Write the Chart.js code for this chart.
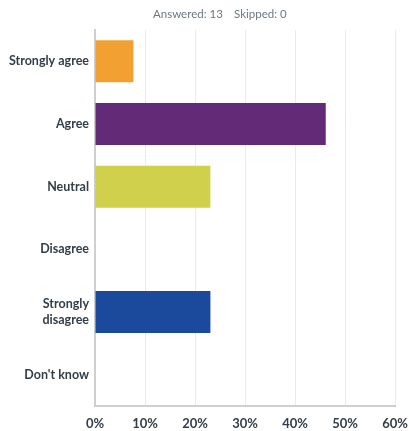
<!DOCTYPE html>
<html>
<head>
<meta charset="utf-8">
<script src="https://cdn.jsdelivr.net/npm/chart.js@4"></script>
<style>
  html, body { margin: 0; padding: 0; background: #fff; }
  #wrap { width: 409px; height: 431px; position: relative; }
</style>
</head>
<body>
<div id="wrap"><canvas id="myChart" width="409" height="431"></canvas></div>
<script>
// answer choices and share of respondents (13 answered)
var categories = ['Strongly agree', 'Agree', 'Neutral', 'Disagree', ['Strongly', 'disagree'], "Don't know"];
var percents = [7.69, 46.15, 23.08, 0, 23.08, 0];
var barColors = ['#f3a032', '#622a77', '#d0d04d', '#1b4a9c', '#1b4a9c', '#999999'];
var xTicks = [0, 10, 20, 30, 40, 50, 60];
var headerText = ['Answered: 13', 'Skipped: 0'];

var labelFont = 'Lato, "Open Sans", sans-serif';

// little header line above the plot
var headerPlugin = {
    id: 'header',
    afterDraw: (chart) => {
        let ctx = chart.ctx;
        ctx.save();
        ctx.font = '11.5px ' + labelFont;
        ctx.fillStyle = '#6b787f';
        ctx.textBaseline = 'middle';
        ctx.textAlign = 'left';
        ctx.fillText(headerText[0], 153, 14);
        ctx.fillText(headerText[1], 234, 14);
        ctx.restore();
    }
};

new Chart('myChart', {
    type: 'bar',
    data: {
        labels: categories,
        datasets: [{
            data: percents,
            backgroundColor: barColors,
            borderWidth: 0,
            categoryPercentage: 1,
            barPercentage: 0.67
        }]
    },
    options: {
        indexAxis: 'y',
        responsive: false,
        animation: false,
        layout: { padding: { top: 30, right: 14, left: 0, bottom: 0 } },
        plugins: {
            legend: { display: false },
            tooltip: { enabled: false }
        },
        scales: {
            x: {
                min: 0,
                max: 60,
                afterBuildTicks: (axis) => {
                    axis.ticks = xTicks.map(v => ({ value: v }));
                },
                afterFit: (axis) => {
                    axis.height = 25;
                    axis.paddingLeft = 0;
                    axis.paddingRight = 0;
                },
                grid: { color: '#ebebeb', lineWidth: 1, drawTicks: false },
                border: { color: '#cfcfcf', width: 2 },
                ticks: {
                    padding: 10,
                    maxRotation: 0,
                    color: '#333e48',
                    font: { family: labelFont, size: 13, weight: 'bold' },
                    callback: (v) => v + '%'
                }
            },
            y: {
                afterFit: (axis) => {
                    axis.width = 95;
                    axis.paddingTop = 0;
                    axis.paddingBottom = 0;
                },
                grid: { display: false, drawTicks: false },
                border: { color: '#cfcfcf', width: 2 },
                ticks: {
                    padding: 6,
                    color: '#333e48',
                    font: { family: labelFont, size: 12.5, weight: 'bold', lineHeight: 1.25 }
                }
            }
        }
    },
    plugins: [headerPlugin]
});
</script>
</body>
</html>
